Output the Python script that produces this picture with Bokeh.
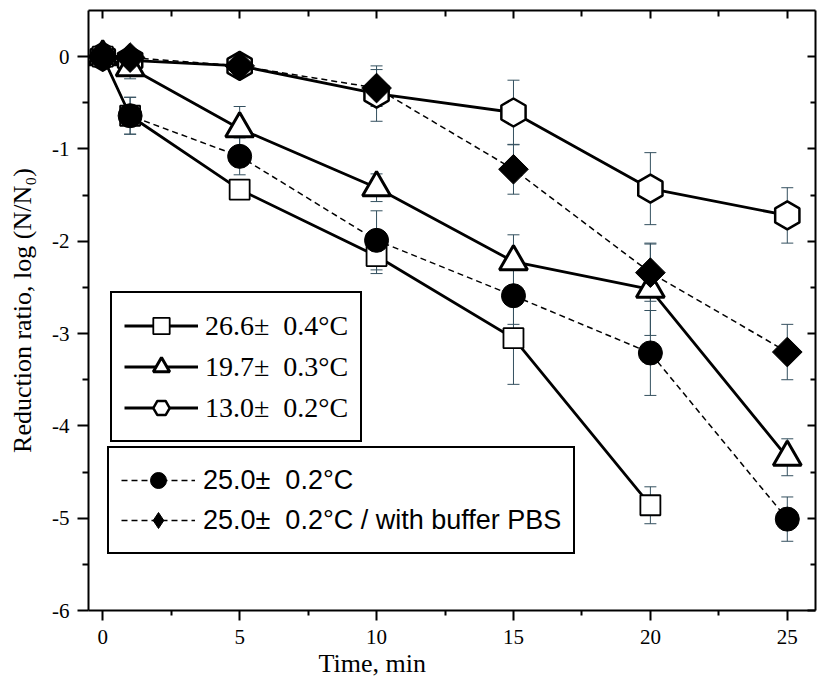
import math
from bokeh.plotting import figure
from bokeh.models import (Range1d, LinearAxis, FixedTicker, Whisker, TeeHead,
                          ColumnDataSource, Legend, LegendItem, Title, Grid)
from bokeh.embed import file_html
from bokeh.resources import INLINE

# ---------------- data ----------------
time = [0, 1, 5, 10, 15, 20, 25]
sq_time = [0, 1, 5, 10, 15, 20]

sq_y = [0, -0.64, -1.44, -2.16, -3.05, -4.86]          # 26.6 +/- 0.4 C
sq_err = [0, 0.2, 0.05, 0.19, 0.5, 0.2]
tri_y = [0, -0.12, -0.78, -1.42, -2.22, -2.52, -4.34]  # 19.7 +/- 0.3 C
tri_err = [0, 0.12, 0.24, 0.15, 0.29, 0.5, 0.2]
hex_y = [0, -0.04, -0.10, -0.40, -0.605, -1.43, -1.72]  # 13.0 +/- 0.2 C
hex_err = [0, 0, 0, 0.3, 0.35, 0.39, 0.3]
cir_y = [0, -0.64, -1.08, -1.99, -2.59, -3.21, -5.01]  # 25.0 +/- 0.2 C
cir_err = [0, 0.2, 0.2, 0.32, 0.31, 0.46, 0.24]
dia_y = [0, -0.01, -0.10, -0.34, -1.22, -2.34, -3.20]  # 25.0 +/- 0.2 C PBS
dia_err = [0, 0, 0, 0.2, 0.27, 0.31, 0.3]

labels_serif = ["26.6\u00b1\u00a0\u00a00.4\u00b0C",
                "19.7\u00b1\u00a0\u00a00.3\u00b0C",
                "13.0\u00b1\u00a0\u00a00.2\u00b0C"]
labels_sans = ["25.0\u00b1\u00a0\u00a00.2\u00b0C",
               "25.0\u00b1\u00a0\u00a00.2\u00b0C / with buffer PBS"]

x_ticks = [0, 5, 10, 15, 20, 25]
x_minor = [2.5, 7.5, 12.5, 17.5, 22.5]
y_ticks = [-6, -5, -4, -3, -2, -1, 0]
y_minor = [-5.5, -4.5, -3.5, -2.5, -1.5, -0.5]

x_title = "Time, min"
y_title = "Reduction ratio, log (N/N\u2080)"

# ---------------- figure ----------------
p = figure(width=817, height=684, output_backend="svg", toolbar_location=None,
           x_range=Range1d(-0.52, 26.03), y_range=Range1d(-6, 0.5),
           x_axis_location=None, y_axis_location=None,
           min_border_left=88, min_border_right=2, min_border_top=10,
           min_border_bottom=74)
p.outline_line_color = None
p.background_fill_color = "white"
p.border_fill_color = "white"
for r in list(p.center):
    if isinstance(r, Grid):
        r.visible = False
p.xgrid.visible = False
p.ygrid.visible = False

SERIF = "Liberation Serif"
SANS = "Liberation Sans"

xt = FixedTicker(ticks=x_ticks, minor_ticks=x_minor)
yt = FixedTicker(ticks=y_ticks, minor_ticks=y_minor)

common = dict(axis_line_width=2, major_tick_line_width=2, minor_tick_line_width=2,
              axis_line_color="black", major_tick_line_color="black",
              minor_tick_line_color="black")

bottom = LinearAxis(ticker=xt, major_tick_out=10, major_tick_in=0,
                    minor_tick_out=5, minor_tick_in=0,
                    major_label_text_font=SERIF, major_label_text_font_size="21px",
                    major_label_text_color="black", major_label_standoff=9,
                    major_label_overrides={t: str(t) for t in x_ticks}, **common)
p.add_layout(bottom, "below")

left = LinearAxis(ticker=yt, major_tick_out=11, major_tick_in=0,
                  minor_tick_out=6, minor_tick_in=0,
                  major_label_text_font=SERIF, major_label_text_font_size="21px",
                  major_label_text_color="black", major_label_standoff=8,
                  major_label_overrides={t: str(t) for t in y_ticks},
                  axis_label=y_title, axis_label_text_font=SERIF,
                  axis_label_text_font_size="26px", axis_label_text_font_style="normal",
                  axis_label_text_color="black", axis_label_standoff=12, **common)
p.add_layout(left, "left")

top = LinearAxis(ticker=xt, major_tick_out=0, major_tick_in=8,
                 minor_tick_out=0, minor_tick_in=6,
                 major_label_text_font_size="0px", major_label_standoff=0,
                 major_label_overrides={t: "" for t in x_ticks}, **common)
p.add_layout(top, "above")

right = LinearAxis(ticker=yt, major_tick_out=0, major_tick_in=8,
                   minor_tick_out=0, minor_tick_in=5,
                   major_label_text_font_size="0px", major_label_standoff=0,
                   major_label_overrides={t: "" for t in y_ticks}, **common)
p.add_layout(right, "right")

xl = Title(text=x_title, align="left", offset=230, text_font=SERIF,
           text_font_size="26px", text_font_style="normal", text_color="black",
           standoff=0)
p.add_layout(xl, "below")

# ---------------- lines ----------------
solid = dict(line_color="black", line_width=2.8)
dashed = dict(line_color="black", line_width=1.5, line_dash="6 4")
l_hex = p.line(time, hex_y, **solid)
l_dia = p.line(time, dia_y, **dashed)
l_tri = p.line(time, tri_y, **solid)
l_cir = p.line(time, cir_y, **dashed)
l_sq = p.line(sq_time, sq_y, **solid)

# ---------------- error bars ----------------
ERR = "#34505f"


def add_err(xs, ys, es):
    rows = [(x, y, e) for x, y, e in zip(xs, ys, es) if e > 0]
    src = ColumnDataSource(dict(
        base=[r[0] for r in rows],
        upper=[r[1] + r[2] for r in rows],
        lower=[r[1] - r[2] for r in rows]))
    w = Whisker(source=src, base="base", upper="upper", lower="lower",
                dimension="height", line_color=ERR, line_width=1,
                upper_head=TeeHead(size=12, line_color=ERR, line_width=1),
                lower_head=TeeHead(size=12, line_color=ERR, line_width=1))
    p.add_layout(w)


add_err(time, hex_y, hex_err)
add_err(time, tri_y, tri_err)
add_err(sq_time, sq_y, sq_err)
add_err(time, cir_y, cir_err)
add_err(time, dia_y, dia_err)

# ---------------- markers ----------------
s_hex = p.scatter(time, hex_y, marker="hex", size=28, angle=math.pi / 2,
                  fill_color="white", line_color="black", line_width=2.5)
s_tri = p.scatter(time, tri_y, marker="triangle", size=28,
                  fill_color="white", line_color="black", line_width=3)
s_sq = p.scatter(sq_time, sq_y, marker="square", size=20,
                 fill_color="white", line_color="black", line_width=1.8)
s_cir = p.scatter(time, cir_y, marker="circle", size=24,
                  fill_color="black", line_color="black")
# diamond glyph used for the legend (hidden under the rotated squares below)
s_dia_leg = p.scatter(time, dia_y, marker="diamond", size=22,
                      fill_color="black", line_color="black")
s_dia = p.scatter(time, dia_y, marker="square", size=21, angle=math.pi / 4,
                  fill_color="black", line_color="black")

# ---------------- legends ----------------
leg_common = dict(margin=0, padding=12, spacing=0, glyph_width=74,
                  label_text_color="black", border_line_color="black",
                  border_line_width=2, border_line_alpha=1.0,
                  background_fill_color="white", background_fill_alpha=1.0)

leg1 = Legend(items=[LegendItem(label=labels_serif[0], renderers=[l_sq, s_sq]),
                     LegendItem(label=labels_serif[1], renderers=[l_tri, s_tri]),
                     LegendItem(label=labels_serif[2], renderers=[l_hex, s_hex])],
              location=(22, 168), glyph_height=41, label_height=30,
              label_standoff=7, label_text_font=SERIF,
              label_text_font_size="28px", **leg_common)
p.add_layout(leg1)

leg2 = Legend(items=[LegendItem(label=labels_sans[0], renderers=[l_cir, s_cir]),
                     LegendItem(label=labels_sans[1], renderers=[l_dia, s_dia_leg])],
              location=(19, 56), glyph_height=40, label_height=30,
              label_standoff=8, label_text_font=SANS,
              label_text_font_size="27px", **leg_common)
p.add_layout(leg2)

open("out.html", "w").write(file_html(p, INLINE))
